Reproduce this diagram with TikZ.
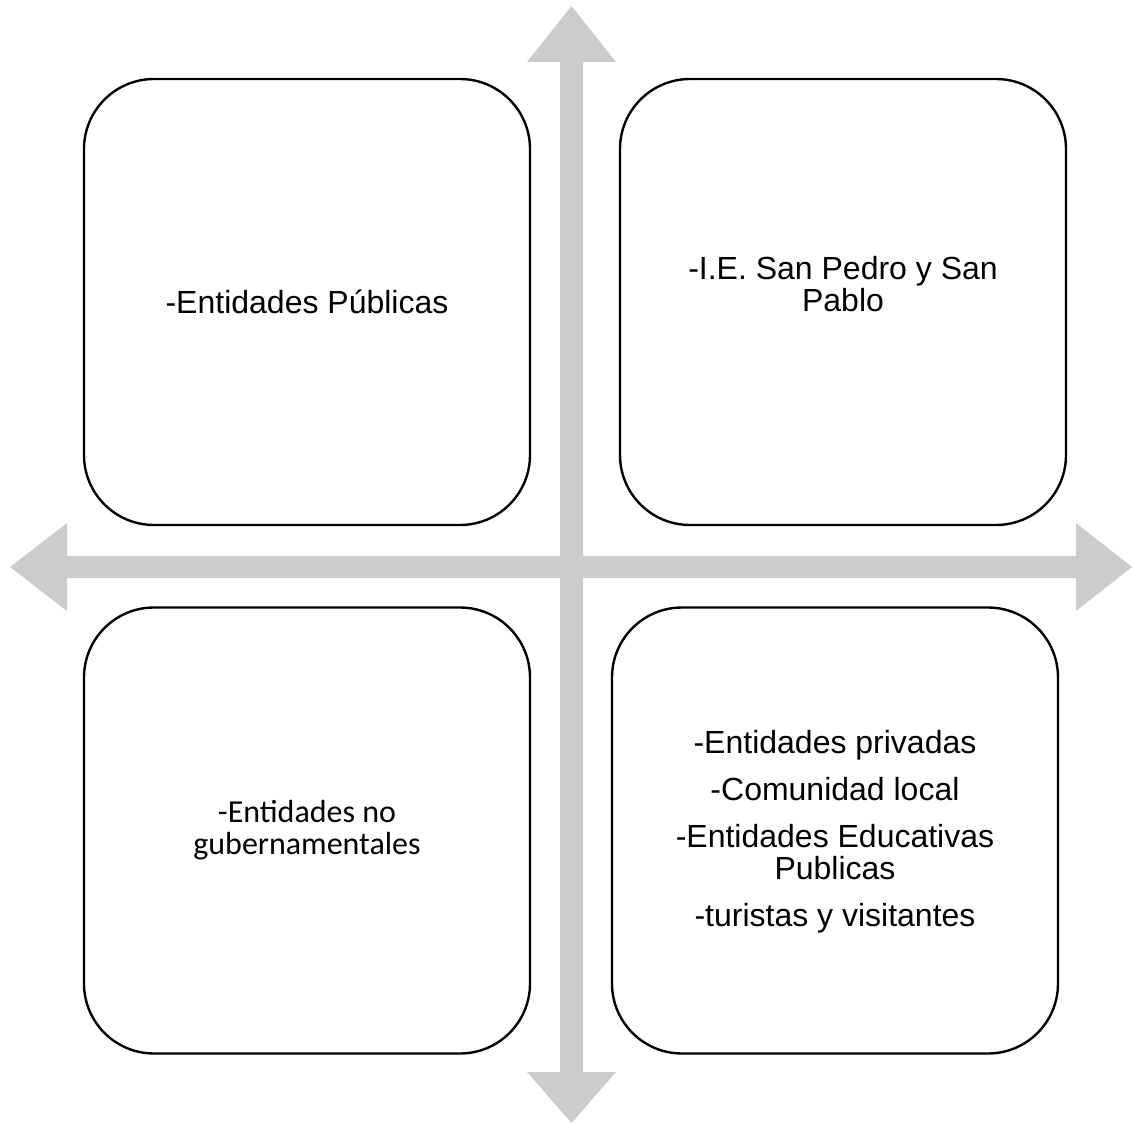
\documentclass[tikz,border=0pt]{standalone}
\usepackage{fontspec}
\setmainfont{Liberation Sans}
\newfontfamily\calib{Carlito}
\definecolor{arrowgray}{RGB}{204,204,204}
\begin{document}
\begin{tikzpicture}[x=1pt,y=-1pt,
  quad/.style={draw=black,line width=2.4pt,fill=white,rounded corners=70pt,
    minimum width=446pt,minimum height=446pt,inner sep=0pt,align=center,
    font=\fontsize{32}{32}\selectfont},
  lbl/.style={align=center,font=\fontsize{32}{32}\selectfont,inner sep=0pt},
  axisarrow/.style={fill=arrowgray,draw=none}]
\useasboundingbox (0,0) rectangle (1133,1124);
% vertical double arrow
\fill[axisarrow] (560,62) -- (527,62) -- (571.5,6) -- (616,62) -- (583,62)
  -- (583,1072) -- (616,1072) -- (571.5,1123) -- (527,1072) -- (560,1072) -- cycle;
% horizontal double arrow
\fill[axisarrow] (67,556) -- (67,523) -- (10,567) -- (67,611) -- (67,578)
  -- (1076,578) -- (1076,611) -- (1132,567) -- (1076,523) -- (1076,556) -- cycle;
% quadrants
\node[quad] (tl) at (307,302) {-Entidades Públicas};
\node[quad] (tr) at (843,302) {};
\node[lbl] (trtext) at (843,284) {-I.E. San Pedro y San\\Pablo};
\node[quad] (bl) at (307,830.5) {\calib -Entidades no\\\calib gubernamentales};
\node[quad] (br) at (835,830.5) {};
\node[lbl] (brtext) at (835,832) {-Entidades privadas\\[15pt]-Comunidad local\\[15pt]-Entidades Educativas\\Publicas\\[15pt]-turistas y visitantes};
\end{tikzpicture}
\end{document}
